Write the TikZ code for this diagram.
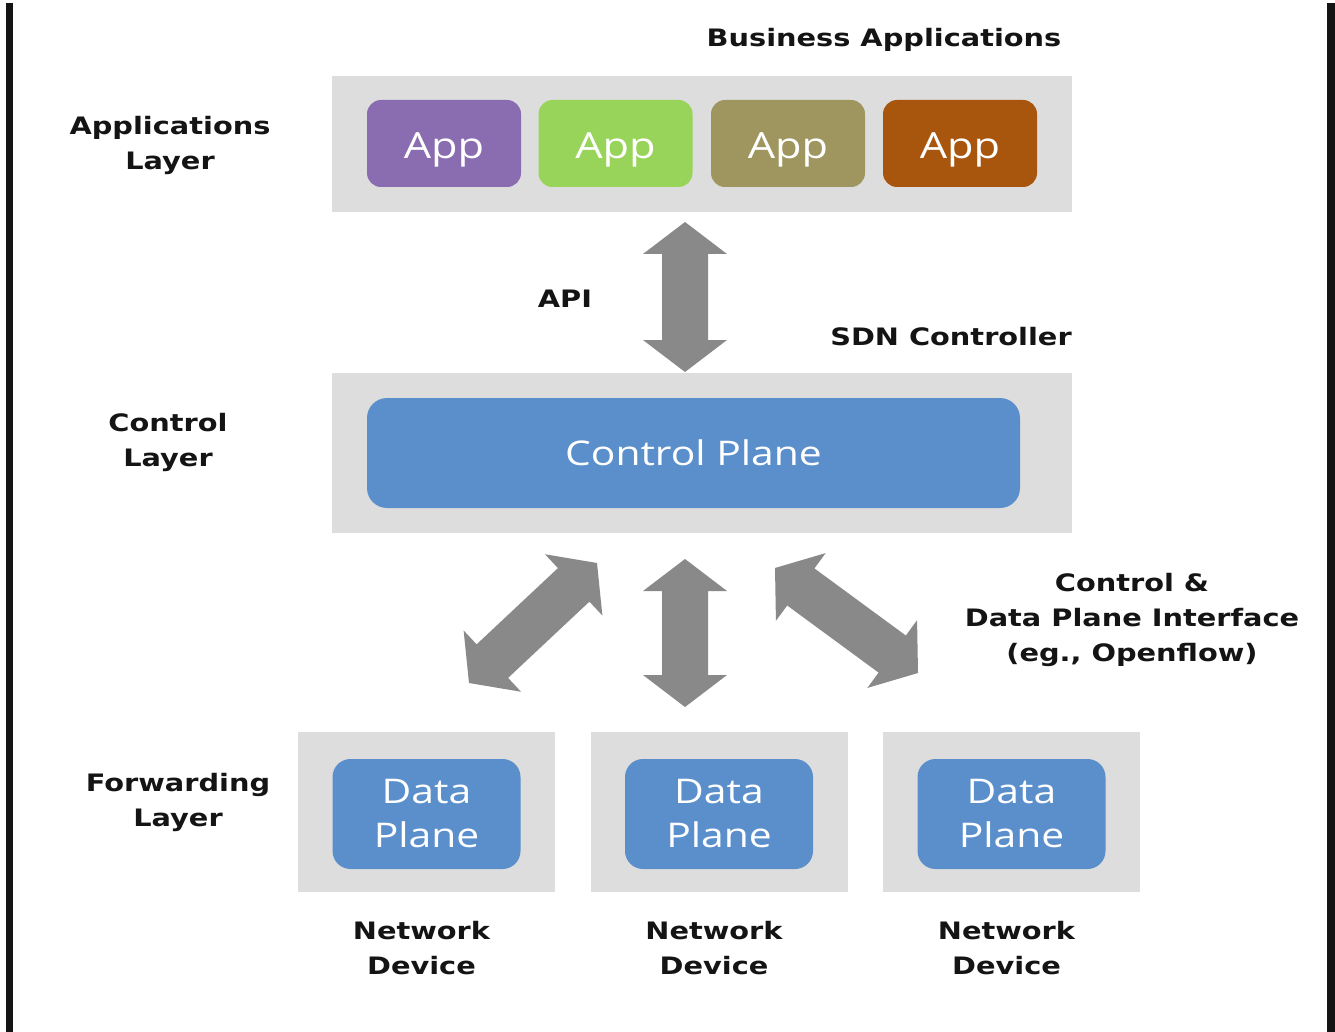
\documentclass[tikz,border=0pt]{standalone}
\usepackage{fontspec}
\usetikzlibrary{calc}
\newfontfamily\boxfont[FakeStretch=1.2]{Open Sans}
\newfontfamily\labfont[FakeStretch=1.2]{DejaVu Sans}
\definecolor{bandgray}{HTML}{DDDDDD}
\definecolor{apppurple}{HTML}{8A6CB0}
\definecolor{appgreen}{HTML}{98D45A}
\definecolor{appolive}{HTML}{9E965E}
\definecolor{appbrown}{HTML}{A8560E}
\definecolor{planeblue}{HTML}{5B8FCB}
\definecolor{arrowgray}{HTML}{898989}
\definecolor{labink}{HTML}{141414}
\newcommand\biarrow[2]{%
  \coordinate (#1-a) at ($(#1)!32pt!(#2)$);
  \coordinate (#1-b) at ($(#2)!32pt!(#1)$);
  \fill[arrowgray] (#1)
    -- ($(#1-a)!42pt!90:(#2)$) -- ($(#1-a)!23pt!90:(#2)$)
    -- ($(#1-b)!23pt!-90:(#1)$) -- ($(#1-b)!42pt!-90:(#1)$)
    -- (#2)
    -- ($(#1-b)!42pt!90:(#1)$) -- ($(#1-b)!23pt!90:(#1)$)
    -- ($(#1-a)!23pt!-90:(#2)$) -- ($(#1-a)!42pt!-90:(#2)$)
    -- cycle;}
\tikzset{
  band/.style={fill=bandgray, draw=none, inner sep=0pt},
  appbox/.style={fill=#1, rounded corners=14pt, inner sep=0pt,
    minimum width=154pt, minimum height=87pt, text=white,
    text height=30pt, text depth=0pt,
    font=\boxfont\fontsize{36}{40}\selectfont},
  planebox/.style={fill=planeblue, rounded corners=18pt, inner sep=0pt,
    text=white, align=center, font=\boxfont\fontsize{34}{44}\selectfont},
  lab/.style={text=labink, align=center, inner sep=0pt,
    font=\labfont\bfseries\fontsize{24}{35}\selectfont},
}
\begin{document}
\begin{tikzpicture}[x=1pt,y=-1pt]
\useasboundingbox (0,0) rectangle (1335,1032);
\fill[white] (0,0) rectangle (1335,1032);
\fill[black!92] (6,3) rectangle (13,1032);
\fill[black!92] (1327,3) rectangle (1335,1032);

% Applications layer
\node[band, minimum width=740pt, minimum height=136pt] (appband) at (702,144) {};
\node[appbox=apppurple] (app1) at (444,143.5) {App};
\node[appbox=appgreen]  (app2) at (615.5,143.5) {App};
\node[appbox=appolive]  (app3) at (788,143.5) {App};
\node[appbox=appbrown]  (app4) at (960,143.5) {App};
\node[lab] (busapps) at (884,40) {Business Applications};
\node[lab] (applayer) at (170,145) {Applications\\Layer};

% Control layer
\node[band, minimum width=740pt, minimum height=160pt] (ctlband) at (702,453) {};
\node[planebox, minimum width=653pt, minimum height=110pt, rounded corners=20pt] (ctlplane) at (693.5,453) {Control Plane};
\node[lab] (ctllayer) at (168,442) {Control\\Layer};
\node[lab] (api) at (565,299) {API};
\node[lab] (sdn) at (951,337) {SDN Controller};
\node[lab] (iface) at (1132,620) {Control \&\\Data Plane Interface\\(eg., Openflow)};

% Forwarding layer
\foreach \i/\cx in {1/426.5, 2/719, 3/1011.5}{
  \node[band, minimum width=257pt, minimum height=160pt] (dev\i) at (\cx,812) {};
  \node[planebox, minimum width=188pt, minimum height=110pt] (dp\i) at (\cx,814) {Data\\Plane};
  \node[lab] (nd\i) at (\cx-5,948) {Network\\Device};
}
\node[lab] (fwdlayer) at (178,802) {Forwarding\\Layer};

% Arrows
\coordinate (apiT) at (685,222);
\coordinate (apiB) at (685,372);
\coordinate (lA) at (469,683);
\coordinate (lB) at (597,563);
\coordinate (mA) at (685,559);
\coordinate (mB) at (685,707);
\coordinate (rA) at (775,568);
\coordinate (rB) at (918,673);
\biarrow{apiT}{apiB}
\biarrow{lA}{lB}
\biarrow{mA}{mB}
\biarrow{rA}{rB}
\end{tikzpicture}
\end{document}
